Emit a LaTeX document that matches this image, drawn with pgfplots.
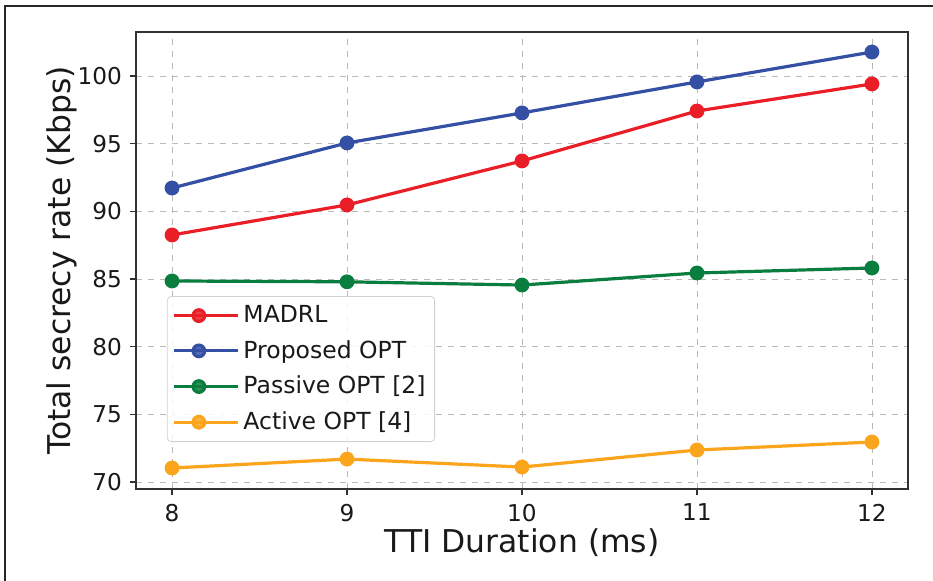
\documentclass[border=0pt]{standalone}
\usepackage{fontspec}
\setmainfont{DejaVu Sans}
\usepackage{pgfplots}
\pgfplotsset{compat=1.18}
\definecolor{cred}{RGB}{234,30,38}
\definecolor{cblue}{RGB}{52,80,164}
\definecolor{cgreen}{RGB}{10,126,62}
\definecolor{corange}{RGB}{250,165,28}
\definecolor{spine}{RGB}{50,50,50}
\begin{document}
\begin{tikzpicture}
\begin{axis}[
  at={(0pt,0pt)}, anchor=south west,
  scale only axis, width=386pt, height=228.5pt,
  xmin=7.794, xmax=12.206, ymin=69.48, ymax=103.25,
  xtick={8,9,10,11,12}, ytick={70,75,80,85,90,95,100},
  xtick pos=bottom, ytick pos=left,
  tick align=outside, major tick length=3pt,
  tick style={spine, line width=0.6pt},
  axis line style={spine, line width=0.8pt},
  grid=major, grid style={dashed, gray!55, line width=0.4pt},
  /pgf/number format/assume math mode=true,
  ticklabel style={font=\fontsize{11.6}{13}\selectfont, text=black!90},
  xticklabel style={yshift=-1pt},
  yticklabel style={xshift=-0.5pt},
  xlabel={TTI Duration (ms)}, ylabel={Total secrecy rate (Kbps)},
  label style={font=\fontsize{15.7}{18}\selectfont, text=black!90},
  xlabel style={at={(axis description cs:0.5,0)}, anchor=center, yshift=-27pt},
  ylabel style={at={(axis description cs:0,0.5)}, anchor=center, yshift=37pt},
  every axis plot/.append style={line width=1.6pt, mark=*, mark size=2.9pt, mark options={solid}},
  legend cell align=left,
  legend style={at={(axis description cs:0.04,0.422)}, anchor=north west,
    draw=black!18, rounded corners=2pt, fill=white, fill opacity=0.85, text opacity=1,
    font=\fontsize{11.75}{14}\selectfont, text=black!90,
    inner xsep=2.5pt, inner ysep=2.5pt, row sep=3.4pt},
  legend image code/.code={\draw[mark repeat=2,mark phase=2] plot coordinates {(0pt,0pt) (12.5pt,0pt) (25pt,0pt)};
    \path (0pt,0pt) -- (32pt,0pt);},
]
\addplot[cred] coordinates {(8,88.25) (9,90.47) (10,93.72) (11,97.41) (12,99.41)};
\addlegendentry{MADRL}
\addplot[cblue] coordinates {(8,91.72) (9,95.05) (10,97.27) (11,99.56) (12,101.77)};
\addlegendentry{Proposed OPT}
\addplot[cgreen] coordinates {(8,84.85) (9,84.79) (10,84.55) (11,85.44) (12,85.81)};
\addlegendentry{Passive OPT [2]}
\addplot[corange] coordinates {(8,71.03) (9,71.69) (10,71.10) (11,72.36) (12,72.95)};
\addlegendentry{Active OPT [4]}
\end{axis}
\draw[line width=0.75pt, black!85] (-65.5pt,-46pt) -- (-65.5pt,241.5pt) -- (398.5pt,241.5pt);
\pgfresetboundingbox
\useasboundingbox (-68pt,-46pt) rectangle (398.5pt,244.5pt);
\end{tikzpicture}
\end{document}
